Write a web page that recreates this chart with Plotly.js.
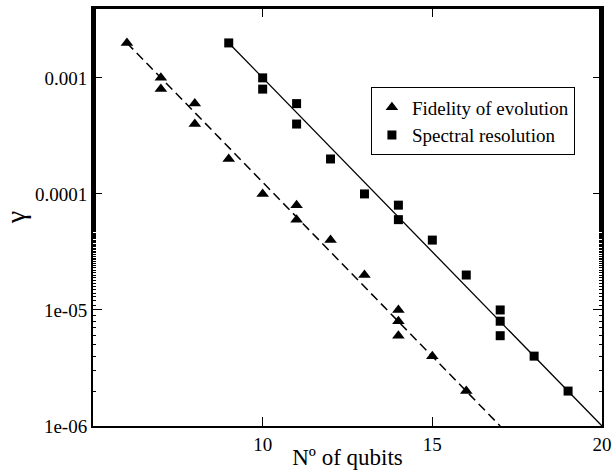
<!DOCTYPE html>
<html>
<head>
<meta charset="utf-8">
<script src="https://cdn.plot.ly/plotly-3.0.1.min.js"></script>
<style>
html,body{margin:0;padding:0;background:#fff;}
#wrap{position:relative;width:614px;height:470px;}
#topframe{position:absolute;left:92px;top:7px;width:511px;height:2px;background:#000;pointer-events:none;}
</style>
</head>
<body>
<div id="wrap">
<div id="chart" style="width:614px;height:470px;"></div>
<div id="topframe"></div>
</div>
<script>
// Fidelity of evolution (triangles)
const fidX = [6, 7, 7, 8, 8, 9, 10, 11, 11, 12, 13, 14, 14, 14, 15, 16];
const fidY = [0.002, 0.001, 0.0008, 0.0006, 0.0004, 0.0002, 0.0001, 8e-5, 6e-5, 4e-5, 2e-5, 1e-5, 8e-6, 6e-6, 4e-6, 2e-6];
// Spectral resolution (squares)
const specX = [9, 10, 10, 11, 11, 12, 13, 14, 14, 15, 16, 17, 17, 17, 18, 19];
const specY = [0.002, 0.001, 0.0008, 0.0006, 0.0004, 0.0002, 0.0001, 8e-5, 6e-5, 4e-5, 2e-5, 1e-5, 8e-6, 6e-6, 4e-6, 2e-6];
// Fit lines (end points)
const fidFitX = [6, 17];
const fidFitY = [0.002, 1e-6];
const specFitX = [9, 20];
const specFitY = [0.002, 1e-6];
// Tick labels
const yTickVals = [1e-6, 1e-5, 1e-4, 1e-3];
const yTickText = ['1e-06', '1e-05', '0.0001', '0.001'];
const xTickVals = [10, 15, 20];

const font = 'Liberation Serif';

const traces = [
  {x: fidFitX, y: fidFitY, mode: 'lines', line: {color: '#000', width: 1.5, dash: '9px,5px'}, showlegend: false, hoverinfo: 'skip'},
  {x: specFitX, y: specFitY, mode: 'lines', line: {color: '#000', width: 1.3}, showlegend: false, hoverinfo: 'skip'},
  {x: fidX, y: fidY, mode: 'markers', name: 'Fidelity of evolution', marker: {symbol: 'triangle-up', size: 11, color: '#000'}},
  {x: specX, y: specY, mode: 'markers', name: 'Spectral resolution', marker: {symbol: 'square', size: 9, color: '#000'}},
  // empty trace only to activate the mirrored top axis
  {x: [], y: [], xaxis: 'x2', yaxis: 'y', mode: 'markers', showlegend: false, hoverinfo: 'skip'}
];

const layout = {
  width: 614, height: 470,
  margin: {l: 93, r: 12, t: 8, b: 44},
  paper_bgcolor: '#fff', plot_bgcolor: '#fff',
  font: {family: font, color: '#000', size: 19},
  showlegend: true,
  legend: {
    x: 0.546, y: 0.81, xanchor: 'left', yanchor: 'top',
    bordercolor: '#000', borderwidth: 1, bgcolor: '#fff',
    font: {family: font, size: 19, color: '#000'},
    tracegroupgap: 0, itemwidth: 30
  },
  xaxis: {
    range: [5, 20], tickvals: xTickVals, ticktext: xTickVals.map(String),
    ticks: 'inside', ticklen: 9, tickwidth: 1, tickcolor: '#000',
    showline: true, linecolor: '#000', linewidth: 2, mirror: 'ticks',
    showgrid: false, zeroline: false,
    tickfont: {family: font, size: 19, color: '#000'},
    title: {text: 'Nº of qubits', font: {family: font, size: 23, color: '#000'}, standoff: 0}
  },
  xaxis2: {
    overlaying: 'x', side: 'top', matches: 'x', range: [5, 20],
    tickvals: xTickVals, showticklabels: false,
    ticks: 'inside', ticklen: 9, tickwidth: 1, tickcolor: '#000',
    showline: true, linecolor: '#000', linewidth: 2,
    showgrid: false, zeroline: false
  },
  yaxis: {
    type: 'log', range: [-6, Math.log10(0.004)],
    tickvals: yTickVals, ticktext: yTickText,
    ticks: 'inside', ticklen: 9, tickwidth: 1, tickcolor: '#000',
    minor: {ticks: 'inside', ticklen: 3, tickcolor: '#000', showgrid: false},
    showline: true, linecolor: '#000', linewidth: 2, mirror: 'ticks',
    showgrid: false, zeroline: false,
    tickfont: {family: font, size: 19, color: '#000'},
    title: {text: 'γ', font: {family: font, size: 28, color: '#000'}, standoff: 6}
  }
};

Plotly.newPlot('chart', traces, layout, {displayModeBar: false, staticPlot: true});
</script>
</body>
</html>
